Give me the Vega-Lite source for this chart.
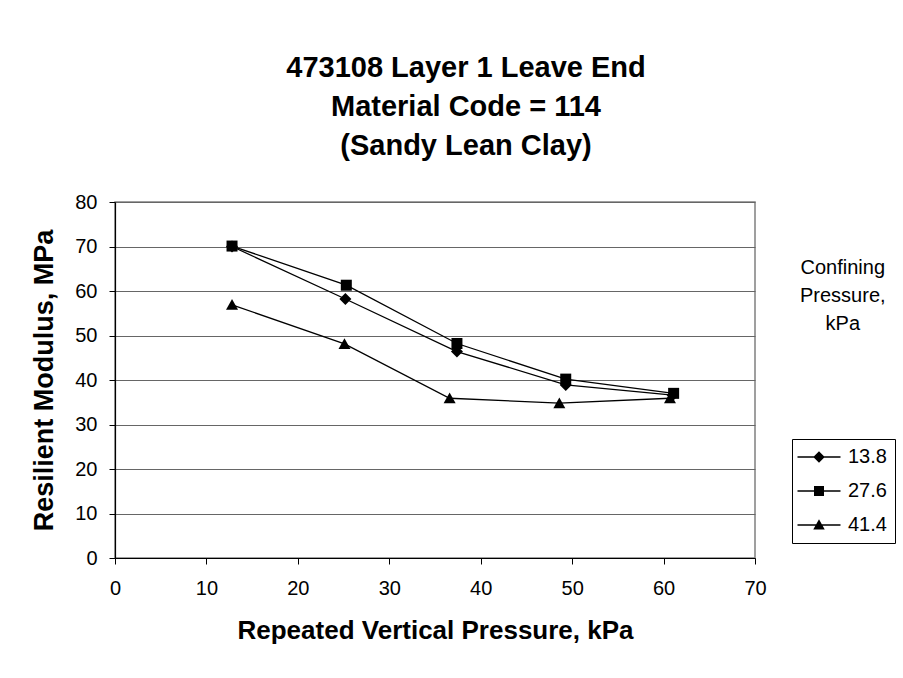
{
  "$schema": "https://vega.github.io/schema/vega-lite/v6.json",
  "width": 640,
  "height": 356,
  "autosize": {"type": "none"},
  "padding": {"left": 115, "top": 202, "right": 148, "bottom": 120},
  "background": "white",
  "title": {
    "text": ["473108 Layer 1 Leave End", "Material Code = 114", "(Sandy Lean Clay)"],
    "anchor": "middle",
    "frame": "group",
    "dx": 31,
    "offset": 31,
    "font": "Liberation Sans",
    "fontSize": 29,
    "fontWeight": "bold",
    "lineHeight": 39,
    "color": "black"
  },
  "config": {
    "font": "Liberation Sans",
    "view": {"stroke": "#808080", "strokeWidth": 1.5},
    "axis": {
      "labelFont": "Liberation Sans",
      "titleFont": "Liberation Sans",
      "labelColor": "black",
      "titleColor": "black",
      "domainColor": "black",
      "domainWidth": 1.2,
      "tickColor": "black",
      "tickSize": 6,
      "labelFontSize": 20,
      "titleFontWeight": "bold",
      "labelOverlap": false,
      "labelFlush": false
    }
  },
  "datasets": {
    "pts": [
      {"cp": "13.8", "x": 12.8, "y": 70.0},
      {"cp": "13.8", "x": 25.2, "y": 58.2},
      {"cp": "13.8", "x": 37.4, "y": 46.4},
      {"cp": "13.8", "x": 49.3, "y": 38.9},
      {"cp": "13.8", "x": 61.0, "y": 36.6},
      {"cp": "27.6", "x": 12.8, "y": 70.1},
      {"cp": "27.6", "x": 25.3, "y": 61.3},
      {"cp": "27.6", "x": 37.4, "y": 48.2},
      {"cp": "27.6", "x": 49.3, "y": 40.2},
      {"cp": "27.6", "x": 61.1, "y": 37.0},
      {"cp": "41.4", "x": 12.8, "y": 56.9},
      {"cp": "41.4", "x": 25.1, "y": 48.1},
      {"cp": "41.4", "x": 36.6, "y": 35.9},
      {"cp": "41.4", "x": 48.6, "y": 34.8},
      {"cp": "41.4", "x": 60.7, "y": 35.9}
    ],
    "note": [
      {"t": "Confining\nPressure,\nkPa"}
    ]
  },
  "resolve": {"scale": {"shape": "independent"}, "legend": {"shape": "independent"}},
  "layer": [
    {
      "data": {"name": "pts"},
      "mark": {"type": "line", "color": "black", "strokeWidth": 1.3},
      "encoding": {
        "x": {
          "field": "x", "type": "quantitative",
          "scale": {"domain": [0, 70], "nice": false},
          "axis": {
            "title": "Repeated Vertical Pressure, kPa",
            "values": [0, 10, 20, 30, 40, 50, 60, 70],
            "grid": false,
            "labelPadding": 14,
            "titleFontSize": 26,
            "titlePadding": 19
          }
        },
        "y": {
          "field": "y", "type": "quantitative",
          "scale": {"domain": [0, 80], "nice": false},
          "axis": {
            "title": "Resilient Modulus, MPa",
            "values": [0, 10, 20, 30, 40, 50, 60, 70, 80],
            "grid": true,
            "gridColor": "#666666",
            "gridWidth": 1.2,
            "labelPadding": 12,
            "titleFontSize": 27,
            "titlePadding": 16
          }
        },
        "detail": {"field": "cp", "type": "nominal"}
      }
    },
    {
      "data": {"name": "pts"},
      "mark": {"type": "point", "filled": true, "color": "black", "opacity": 1, "size": 100},
      "encoding": {
        "x": {"field": "x", "type": "quantitative"},
        "y": {"field": "y", "type": "quantitative"},
        "shape": {
          "field": "cp", "type": "nominal",
          "scale": {
            "domain": ["13.8", "27.6", "41.4"],
            "range": ["M0,-1.2L1.2,0L0,1.2L-1.2,0Z", "M-1.1,-1.1H1.1V1.1H-1.1Z", "M0,-1.15L1.2,1H-1.2Z"]
          },
          "legend": null
        }
      }
    },
    {
      "data": {"name": "pts"},
      "transform": [{"filter": "datum.x < 0"}],
      "mark": {"type": "point", "filled": true, "color": "black", "opacity": 1, "size": 100},
      "encoding": {
        "x": {"field": "x", "type": "quantitative"},
        "y": {"field": "y", "type": "quantitative"},
        "shape": {
          "field": "cp", "type": "nominal",
          "scale": {
            "domain": ["13.8", "27.6", "41.4"],
            "range": [
              "M-4.3,-0.13H4.3V0.13H-4.3ZM0,-1.15L1.15,0L0,1.15L-1.15,0Z",
              "M-4.3,-0.13H4.3V0.13H-4.3ZM-1,-1H1V1H-1Z",
              "M-4.3,-0.13H4.3V0.13H-4.3ZM0,-1.15L1.15,0.9H-1.15Z"
            ]
          },
          "legend": {
            "title": null,
            "orient": "none",
            "legendX": 677,
            "legendY": 237,
            "strokeColor": "black",
            "fillColor": "white",
            "padding": 8,
            "symbolSize": 100,
            "symbolOffset": 9,
            "labelOffset": 19,
            "labelFontSize": 20,
            "labelColor": "black",
            "labelFont": "Liberation Sans",
            "rowPadding": 14,
            "symbolFillColor": "black",
            "symbolOpacity": 1
          }
        }
      }
    },
    {
      "data": {"name": "note"},
      "mark": {"type": "text", "align": "center", "baseline": "alphabetic", "fontSize": 20, "lineHeight": 28, "lineBreak": "\n", "color": "black", "font": "Liberation Sans"},
      "encoding": {
        "x": {"datum": 79.6, "type": "quantitative"},
        "y": {"datum": 63.8, "type": "quantitative"},
        "text": {"field": "t", "type": "nominal"}
      }
    }
  ]
}
